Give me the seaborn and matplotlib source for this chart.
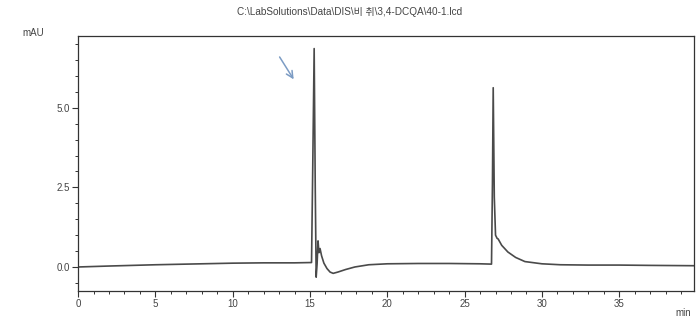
import matplotlib
matplotlib.use("Agg")
import matplotlib.pyplot as plt
from matplotlib.ticker import MultipleLocator, FormatStrFormatter
import seaborn as sns
import pandas as pd

# Chromatogram trace (retention time in min, detector signal in mAU)
time_min = [0.0, 2.0, 5.0, 8.0, 10.0, 12.0, 14.0, 15.1,
            15.18, 15.27, 15.34, 15.4, 15.46, 15.52, 15.58, 15.65, 15.75,
            15.9, 16.1, 16.3, 16.5, 16.8, 17.3, 17.9, 18.8, 20.0, 22.0,
            24.0, 26.0, 26.74, 26.8, 26.85, 26.92, 27.0, 27.1, 27.17,
            27.4, 27.8, 28.3, 28.9, 30.0, 31.2, 33.0, 35.0, 37.0, 39.85]
signal_mau = [0.0, 0.03, 0.07, 0.1, 0.12, 0.13, 0.13, 0.14,
              3.2, 6.86, 2.5, -0.32, 0.1, 0.82, 0.45, 0.58, 0.35,
              0.12, -0.05, -0.16, -0.2, -0.16, -0.08, 0.0, 0.07, 0.1, 0.11,
              0.11, 0.1, 0.09, 2.6, 5.63, 2.2, 1.0, 0.9, 0.88,
              0.68, 0.47, 0.3, 0.17, 0.1, 0.07, 0.06, 0.06, 0.05, 0.04]

title_text = "C:\\LabSolutions\\Data\\DIS\\비 취\\3,4-DCQA\\40-1.lcd"

sns.set_theme(style="white")
plt.rcParams["font.family"] = ["Liberation Sans", "Noto Sans CJK KR", "DejaVu Sans"]

df = pd.DataFrame({"time": time_min, "signal": signal_mau})

fig = plt.figure(figsize=(6.97, 3.23), dpi=100)
ax = fig.add_axes([0.112, 0.099, 0.884, 0.790])

sns.lineplot(data=df, x="time", y="signal", ax=ax, color="#4a4a4a",
             linewidth=1.2, estimator=None, sort=False)

ax.set_xlim(0, 39.85)
ax.set_ylim(-0.755, 7.26)

ax.xaxis.set_major_locator(MultipleLocator(5))
ax.xaxis.set_minor_locator(MultipleLocator(1))
ax.yaxis.set_major_locator(MultipleLocator(2.5))
ax.yaxis.set_minor_locator(MultipleLocator(0.5))
ax.yaxis.set_major_formatter(FormatStrFormatter("%.1f"))
ax.xaxis.set_major_formatter(FormatStrFormatter("%d"))

ax.tick_params(axis="both", which="major", direction="out", length=4,
               width=0.8, color="#333333", labelsize=7, labelcolor="#444444",
               left=True, bottom=True, pad=2)
ax.tick_params(axis="both", which="minor", direction="out", length=2.5,
               width=0.7, color="#333333", left=True, bottom=True)

for spine in ax.spines.values():
    spine.set_color("#333333")
    spine.set_linewidth(0.9)

ax.set_xlabel("")
ax.set_ylabel("")

fig.text(22 / 697, 1 - 33 / 323, "mAU", fontsize=7, color="#444444",
         ha="left", va="center")
fig.text(683 / 697, 1 - 313 / 323, "min", fontsize=7, color="#444444",
         ha="center", va="center")
fig.text(350 / 697, 1 - 12 / 323, title_text,
         fontsize=7.2, color="#444444", ha="center", va="center")

ax.annotate("", xy=(14.04, 5.82), xytext=(12.94, 6.67),
            arrowprops=dict(arrowstyle="->", color="#7c9cc4", lw=1.1))

fig.savefig("out.png", dpi=100)
